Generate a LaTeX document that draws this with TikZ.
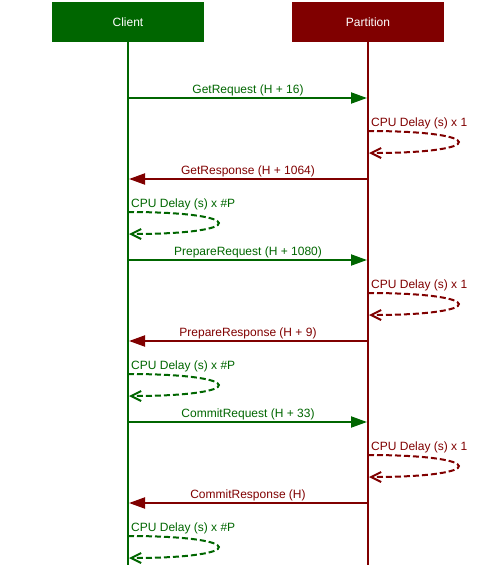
\documentclass[tikz,border=0pt]{standalone}
\usepackage{fontspec}
\setmainfont{Liberation Sans}
\usetikzlibrary{arrows.meta}
\definecolor{clientgreen}{HTML}{006600}
\definecolor{partred}{HTML}{800000}
\tikzset{
  actor/.style={minimum width=152pt, minimum height=40pt, inner sep=0pt,
    text=white, font=\fontsize{12}{14}\selectfont},
  lifeline/.style={line width=2pt},
  msg/.style={line width=2pt, -{Triangle[length=16pt,width=11pt]}},
  delay/.style={line width=2pt, dash pattern=on 6pt off 3pt,
    -{Straight Barb[length=10pt,width=10pt]}},
  lbl/.style={font=\fontsize{12}{14}\selectfont, inner sep=0pt},
}
\begin{document}
\begin{tikzpicture}[x=1pt,y=-1pt]
    \useasboundingbox (0,0) rectangle (496,568);

    % actors and lifelines
    \node[actor, fill=clientgreen] (client) at (128,22) {Client};
    \node[actor, fill=partred] (partition) at (368,22) {Partition};
    \coordinate (client end) at (128,565);
    \coordinate (partition end) at (368,565);
    \draw[lifeline, clientgreen] (client.south) -- (client end);
    \draw[lifeline, partred] (partition.south) -- (partition end);

    % points on the lifelines
    \path[coordinate] (129,98)  coordinate(c1) (367,98)  coordinate(p1)
                      (368,131) coordinate(p2) (369,153) coordinate(p3)
                      (129,179) coordinate(c4) (367,179) coordinate(p4)
                      (128,212) coordinate(c5) (129,234) coordinate(c6)
                      (129,260) coordinate(c7) (367,260) coordinate(p7)
                      (368,293) coordinate(p8) (369,315) coordinate(p9)
                      (129,341) coordinate(c10) (367,341) coordinate(p10)
                      (128,374) coordinate(c11) (129,396) coordinate(c12)
                      (129,422) coordinate(c13) (367,422) coordinate(p13)
                      (368,455) coordinate(p14) (369,477) coordinate(p15)
                      (129,503) coordinate(c16) (367,503) coordinate(p16)
                      (128,536) coordinate(c17) (129,558) coordinate(c18);

    % get
    \draw[msg, clientgreen] (c1) -- node[lbl, midway, anchor=base, yshift=4.5pt, text=clientgreen] (getreq) {GetRequest (H + 16)} (p1);
    \draw[delay, partred] (p2) .. controls +(120,0) and +(120,0) .. (p3);
    \node[lbl, anchor=base west, text=partred] (delay1) at ([shift={(3,-4.5)}]p2) {CPU Delay (s) x 1};
    \draw[msg, partred] (p4) -- node[lbl, midway, anchor=base, yshift=4.5pt, text=partred] (getresp) {GetResponse (H + 1064)} (c4);
    \draw[delay, clientgreen] (c5) .. controls +(120,0) and +(120,0) .. (c6);
    \node[lbl, anchor=base west, text=clientgreen] (delay2) at ([shift={(3,-4.5)}]c5) {CPU Delay (s) x \#P};

    % prepare
    \draw[msg, clientgreen] (c7) -- node[lbl, midway, anchor=base, yshift=4.5pt, text=clientgreen] (prepreq) {PrepareRequest (H + 1080)} (p7);
    \draw[delay, partred] (p8) .. controls +(120,0) and +(120,0) .. (p9);
    \node[lbl, anchor=base west, text=partred] (delay3) at ([shift={(3,-4.5)}]p8) {CPU Delay (s) x 1};
    \draw[msg, partred] (p10) -- node[lbl, midway, anchor=base, yshift=4.5pt, text=partred] (prepresp) {PrepareResponse (H + 9)} (c10);
    \draw[delay, clientgreen] (c11) .. controls +(120,0) and +(120,0) .. (c12);
    \node[lbl, anchor=base west, text=clientgreen] (delay4) at ([shift={(3,-4.5)}]c11) {CPU Delay (s) x \#P};

    % commit
    \draw[msg, clientgreen] (c13) -- node[lbl, midway, anchor=base, yshift=4.5pt, text=clientgreen] (comreq) {CommitRequest (H + 33)} (p13);
    \draw[delay, partred] (p14) .. controls +(120,0) and +(120,0) .. (p15);
    \node[lbl, anchor=base west, text=partred] (delay5) at ([shift={(3,-4.5)}]p14) {CPU Delay (s) x 1};
    \draw[msg, partred] (p16) -- node[lbl, midway, anchor=base, yshift=4.5pt, text=partred] (comresp) {CommitResponse (H)} (c16);
    \draw[delay, clientgreen] (c17) .. controls +(120,0) and +(120,0) .. (c18);
    \node[lbl, anchor=base west, text=clientgreen] (delay6) at ([shift={(3,-4.5)}]c17) {CPU Delay (s) x \#P};

\end{tikzpicture}
\end{document}
